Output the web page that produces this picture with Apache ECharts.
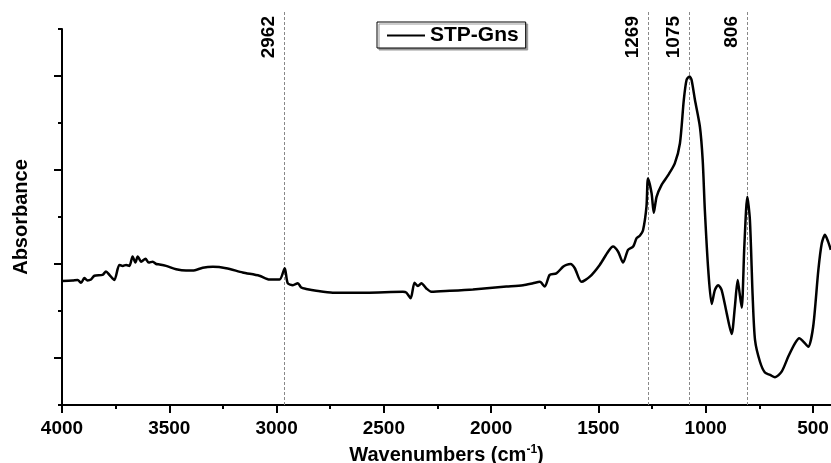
<!DOCTYPE html>
<html>
<head>
<meta charset="utf-8">
<script src="https://cdn.jsdelivr.net/npm/echarts@6/dist/echarts.min.js"></script>
<style>
  html, body { margin: 0; padding: 0; background: #fff; }
  #main { width: 831px; height: 463px; }
</style>
</head>
<body>
<div id="main"></div>
<script>
// wavenumber (cm-1) and absorbance (arbitrary units)
const wavenumbers = [4000, 3951, 3927, 3911, 3896, 3881, 3865, 3849, 3811, 3795,
  3779, 3756, 3733, 3717, 3701, 3686, 3671, 3658, 3647, 3631,
  3611, 3596, 3577, 3561, 3546, 3515, 3468, 3422, 3391, 3344,
  3297, 3235, 3158, 3080, 3033, 2986, 2962, 2948, 2924, 2901,
  2885, 2862, 2815, 2738, 2582, 2411, 2395, 2375, 2357, 2341,
  2325, 2302, 2279, 2193, 2085, 1929, 1851, 1805, 1773, 1750,
  1727, 1696, 1665, 1649, 1630, 1610, 1579, 1540, 1494, 1455,
  1432, 1408, 1385, 1362, 1338, 1322, 1307, 1292, 1276, 1269,
  1252, 1242, 1229, 1206, 1175, 1144, 1120, 1102, 1089, 1075,
  1066, 1050, 1027, 1014, 1004, 988, 972, 957, 942, 926,
  902, 879, 864, 851, 844, 832, 820, 806, 794, 781,
  770, 747, 724, 700, 677, 646, 615, 584, 564, 545,
  522, 499, 475, 459, 444, 429, 417]
const absorbance = [2.64, 2.65, 2.66, 2.60, 2.70, 2.65, 2.67, 2.75, 2.77, 2.84,
  2.77, 2.66, 2.98, 2.96, 2.98, 2.96, 3.16, 3.03, 3.16, 3.05,
  3.11, 3.03, 3.05, 3.00, 2.99, 2.96, 2.89, 2.86, 2.86, 2.92,
  2.94, 2.91, 2.82, 2.75, 2.67, 2.67, 2.91, 2.59, 2.55, 2.59,
  2.50, 2.47, 2.43, 2.39, 2.39, 2.41, 2.39, 2.27, 2.60, 2.53,
  2.59, 2.48, 2.41, 2.43, 2.46, 2.52, 2.55, 2.59, 2.62, 2.52,
  2.77, 2.80, 2.94, 2.98, 3.00, 2.91, 2.62, 2.73, 2.98, 3.26,
  3.37, 3.26, 3.03, 3.30, 3.37, 3.55, 3.60, 3.72, 4.22, 4.82,
  4.50, 4.09, 4.43, 4.68, 4.89, 5.14, 5.57, 6.49, 6.92, 6.99,
  6.92, 6.49, 5.92, 5.21, 4.15, 2.87, 2.15, 2.45, 2.55, 2.45,
  1.95, 1.51, 2.09, 2.66, 2.45, 2.07, 3.37, 4.43, 3.94, 2.30,
  1.38, 0.92, 0.69, 0.64, 0.59, 0.71, 1.03, 1.31, 1.42, 1.35,
  1.24, 1.67, 2.87, 3.44, 3.62, 3.47, 3.30]
const peaks = [2962, 1269, 1075, 806]
const xMajorTicks = [500, 1000, 1500, 2000, 2500, 3000, 3500, 4000]
const xMinorTicks = [750, 1250, 1750, 2250, 2750, 3250, 3750]
const yMajorTicks = [1, 3, 5, 7]
const yMinorTicks = [0, 2, 4, 6, 8]

const font = "'Liberation Sans', Arial, sans-serif"
const chart = echarts.init(document.getElementById('main'))

const baseX = {
  type: 'value',
  inverse: true,
  min: 416,
  max: 4000,
  position: 'bottom',
  splitLine: { show: false },
}
const baseY = {
  type: 'value',
  min: 0,
  max: 8,
  position: 'left',
  splitLine: { show: false },
  axisLabel: { show: false },
}
const hidden = { show: false }

let option = {
  animation: false,
  grid: [
    { left: 62, right: 0, top: 29, bottom: 58, outerBoundsMode: 'none' },
    // taller grid only for the peak marker lines
    { left: 62, right: 0, top: 10, bottom: 58, outerBoundsMode: 'none' },
  ],
  legend: {
    left: 377,
    top: 22,
    padding: [3, 7, 2, 10],
    icon: 'rect',
    itemWidth: 38,
    itemHeight: 2,
    itemGap: 5,
    borderColor: '#000',
    borderWidth: 1,
    backgroundColor: '#fff',
    shadowColor: '#999',
    shadowOffsetX: 2,
    shadowOffsetY: 2,
    shadowBlur: 0,
    data: ['STP-Gns'],
    textStyle: { fontFamily: font, fontSize: 21, fontWeight: 'bold', color: '#000' },
  },
  xAxis: [
    Object.assign({}, baseX, {
      gridIndex: 0,
      name: 'Wavenumbers (cm{sup|-1})',
      nameLocation: 'middle',
      nameGap: 39,
      nameTextStyle: {
        fontFamily: font, fontSize: 20, fontWeight: 'bold', color: '#000',
        rich: {
          sup: { fontFamily: font, fontSize: 12, fontWeight: 'bold', color: '#000', verticalAlign: 'top', padding: [0, 0, 10, 0] }
        }
      },
      axisLine: { onZero: false, lineStyle: { color: '#000', width: 2 } },
      axisTick: { customValues: xMajorTicks, length: 8, lineStyle: { color: '#000', width: 2 } },
      axisLabel: {
        customValues: xMajorTicks, margin: 14,
        formatter: v => String(v),
        fontFamily: font, fontSize: 19, fontWeight: 'bold', color: '#000'
      },
    }),
    Object.assign({}, baseX, {
      gridIndex: 0,
      axisLine: hidden,
      axisTick: { customValues: xMinorTicks, length: 4, lineStyle: { color: '#000', width: 2 } },
      axisLabel: hidden,
    }),
    Object.assign({}, baseX, {
      gridIndex: 1,
      axisLine: hidden, axisTick: hidden, axisLabel: hidden,
    }),
  ],
  yAxis: [
    Object.assign({}, baseY, {
      gridIndex: 0,
      name: 'Absorbance',
      nameLocation: 'middle',
      nameGap: 31,
      nameTextStyle: { fontFamily: font, fontSize: 20, fontWeight: 'bold', color: '#000' },
      axisLine: { onZero: false, lineStyle: { color: '#000', width: 2 } },
      axisTick: { customValues: yMajorTicks, length: 8, lineStyle: { color: '#000', width: 2 } },
    }),
    Object.assign({}, baseY, {
      gridIndex: 0,
      axisLine: hidden,
      axisTick: { customValues: yMinorTicks, length: 4, lineStyle: { color: '#000', width: 2 } },
    }),
    Object.assign({}, baseY, {
      gridIndex: 1,
      axisLine: hidden, axisTick: hidden,
    }),
  ],
  series: [
    {
      name: 'STP-Gns',
      type: 'line',
      xAxisIndex: 0,
      yAxisIndex: 0,
      data: wavenumbers.map((w, i) => [w, absorbance[i]]),
      symbol: 'none',
      smooth: 0.25,
      lineStyle: { color: '#000', width: 2.5 },
      itemStyle: { color: '#000' },
      z: 5,
    },
    {
      name: 'peaks',
      type: 'line',
      xAxisIndex: 2,
      yAxisIndex: 2,
      data: [],
      z: 1,
      markLine: {
        silent: true,
        symbol: 'none',
        z: 1,
        lineStyle: { color: '#888', width: 1, type: [3, 2] },
        label: {
          show: true,
          position: 'insideEndTop',
          distance: 6,
          formatter: '{b}',
          fontFamily: font, fontSize: 19, fontWeight: 'bold', color: '#000'
        },
        data: peaks.map(p => ({ xAxis: p, name: String(p) }))
      }
    }
  ]
}
chart.setOption(option)
</script>
</body>
</html>
